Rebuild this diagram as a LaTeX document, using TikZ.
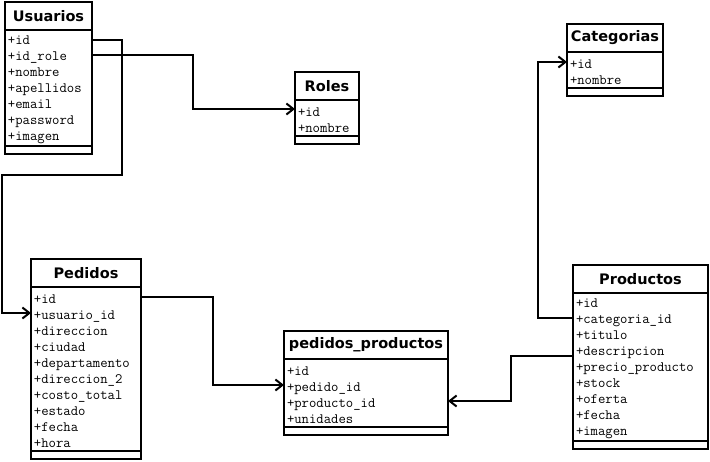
\documentclass[tikz,border=0pt]{standalone}
\usepackage{fontspec}
\newfontfamily\titlefont{DejaVu Sans}
\usepackage{tikz}
\usetikzlibrary{arrows.meta}
\usetikzlibrary{positioning}

\begin{document}
\begin{tikzpicture}[x=1pt, y=-1pt,
  head/.style={rectangle, draw, line width=2pt, minimum height=28pt, outer sep=0pt, anchor=north west, font=\titlefont\bfseries\fontsize{14.5}{16}\selectfont},
  fields/.style={rectangle, draw, line width=2pt, outer sep=0pt, inner xsep=3pt, inner ysep=2pt, align=left, font=\ttfamily\fontsize{14.3}{16}\selectfont, execute at begin node=\rule{0pt}{12.5pt}},
  foot/.style={rectangle, draw, line width=2pt, minimum height=8pt, outer sep=0pt},
  link/.style={line width=2pt, -{Straight Barb[length=7pt, width=11pt]}}]
\useasboundingbox (0,0) rectangle (710,461);
% tables
\node (usuarios) [head, minimum width=87pt] at (5,2) {Usuarios};
\node (usuarios-a) [fields, text width=81pt, minimum height=116pt, below=0pt of usuarios] {+id\\+id\_role\\+nombre\\+apellidos\\+email\\+password\\+imagen};
\node (usuarios-f) [foot, minimum width=87pt, below=0pt of usuarios-a] {};
\node (roles) [head, minimum width=64pt] at (295,72) {Roles};
\node (roles-a) [fields, text width=58pt, minimum height=36pt, below=0pt of roles] {+id\\+nombre};
\node (roles-f) [foot, minimum width=64pt, below=0pt of roles-a] {};
\node (categorias) [head, minimum width=96pt] at (567,24) {Categorias};
\node (categorias-a) [fields, text width=90pt, minimum height=36pt, below=0pt of categorias] {+id\\+nombre};
\node (categorias-f) [foot, minimum width=96pt, below=0pt of categorias-a] {};
\node (pedidos) [head, minimum width=110pt] at (31,259) {Pedidos};
\node (pedidos-a) [fields, text width=104pt, minimum height=164pt, below=0pt of pedidos] {+id\\+usuario\_id\\+direccion\\+ciudad\\+departamento\\+direccion\_2\\+costo\_total\\+estado\\+fecha\\+hora};
\node (pedidos-f) [foot, minimum width=110pt, below=0pt of pedidos-a] {};
\node (pp) [head, minimum width=164pt] at (284,331) {pedidos\_productos};
\node (pp-a) [fields, text width=158pt, minimum height=68pt, below=0pt of pp] {+id\\+pedido\_id\\+producto\_id\\+unidades};
\node (pp-f) [foot, minimum width=164pt, below=0pt of pp-a] {};
\node (productos) [head, minimum width=135pt] at (573,265) {Productos};
\node (productos-a) [fields, text width=129pt, minimum height=148pt, below=0pt of productos] {+id\\+categoria\_id\\+titulo\\+descripcion\\+precio\_producto\\+stock\\+oferta\\+fecha\\+imagen};
\node (productos-f) [foot, minimum width=135pt, below=0pt of productos-a] {};
% links
\draw [link] ([yshift=-10pt]usuarios-a.north east) -- ++(30,0) -- ++(0,135) -- ++(-120,0) |- ([yshift=-26pt]pedidos-a.north west);
\draw [link] ([yshift=-25pt]usuarios-a.north east) -- ++(101,0) |- ([yshift=-9pt]roles-a.north west);
\draw [link] ([yshift=-10pt]pedidos-a.north east) -- ++(72,0) |- ([yshift=-26pt]pp-a.north west);
\draw [link] ([yshift=-25pt]productos-a.north west) -- ++(-35,0) |- ([yshift=-10pt]categorias-a.north west);
\draw [link] ([yshift=-63pt]productos-a.north west) -- ++(-62,0) |- ([yshift=-42pt]pp-a.north east);
\end{tikzpicture}
\end{document}
